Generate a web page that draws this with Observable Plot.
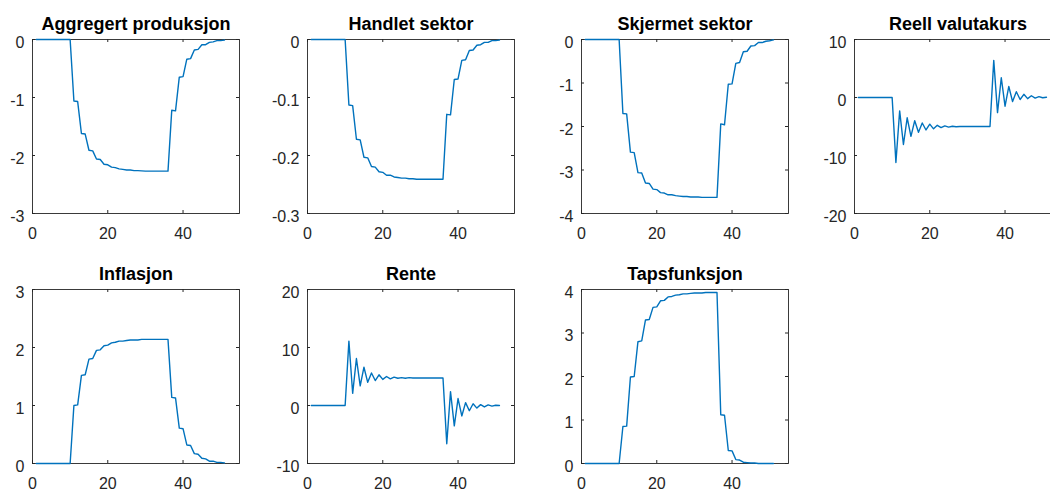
<!DOCTYPE html>
<html>
<head>
<meta charset="utf-8">
<script src="https://cdn.jsdelivr.net/npm/d3@7"></script>
<script src="https://cdn.jsdelivr.net/npm/@observablehq/plot@0.6"></script>
<style>
  html, body { margin: 0; padding: 0; background: #fff; overflow: hidden; }
  #fig { position: relative; width: 1050px; height: 489px; overflow: hidden; background: #fff; }
  #fig svg { position: absolute; overflow: visible; }
</style>
</head>
<body>
<div id="fig"></div>
<script>
// ---- Data ----
const periods = [1,2,3,4,5,6,7,8,9,10,11,12,13,14,15,16,17,18,19,20,21,22,23,24,25,26,27,28,29,30,31,32,33,34,35,36,37,38,39,40,41,42,43,44,45,46,47,48,49,50,51];

const titles = ["Aggregert produksjon", "Handlet sektor", "Skjermet sektor", "Reell valutakurs", "Inflasjon", "Rente", "Tapsfunksjon"];

const aggregertProduksjon = [0,0,0,0,0,0,0,0,0,0,
  -1.06,-1.07,-1.62,-1.63,-1.91,-1.92,-2.06,-2.07,-2.15,-2.16,
  -2.20,-2.21,-2.23,-2.24,-2.25,-2.25,-2.26,-2.26,-2.265,-2.27,
  -2.27,-2.27,-2.27,-2.27,-2.27,-2.27,
  -1.22,-1.23,-0.65,-0.64,-0.34,-0.33,-0.18,-0.17,-0.09,-0.09,-0.05,-0.04,-0.02,-0.02,-0.01];

const handletSektor = [0,0,0,0,0,0,0,0,0,0,
  -0.113,-0.114,-0.172,-0.173,-0.203,-0.204,-0.219,-0.220,-0.228,-0.229,
  -0.234,-0.234,-0.237,-0.238,-0.239,-0.239,-0.240,-0.240,-0.241,-0.241,
  -0.241,-0.241,-0.241,-0.241,-0.241,-0.241,
  -0.129,-0.130,-0.069,-0.068,-0.036,-0.035,-0.019,-0.018,-0.010,-0.009,-0.005,-0.005,-0.002,-0.002,-0.001];

const skjermetSektor = [0,0,0,0,0,0,0,0,0,0,
  -1.70,-1.71,-2.59,-2.60,-3.06,-3.07,-3.30,-3.31,-3.44,-3.45,
  -3.52,-3.53,-3.57,-3.57,-3.59,-3.60,-3.61,-3.61,-3.62,-3.62,
  -3.62,-3.63,-3.63,-3.63,-3.63,-3.63,
  -1.94,-1.96,-1.03,-1.02,-0.55,-0.53,-0.28,-0.27,-0.15,-0.14,-0.07,-0.07,-0.04,-0.03,-0.01];

const reellValutakurs = [0,0,0,0,0,0,0,0,0,0,
  -11.2,-2.3,-8.1,-3.5,-6.7,-4.0,-6.0,-4.4,-5.6,-4.6,
  -5.4,-4.8,-5.2,-4.9,-5.1,-4.95,-5.05,-5.0,-5.0,-5.0,
  -5.0,-5.0,-5.0,-5.0,-5.0,-5.0,
  6.4,-2.6,3.4,-1.5,1.9,-0.7,1.0,-0.35,0.55,-0.2,0.3,-0.1,0.15,-0.05,0.05];

const inflasjon = [0,0,0,0,0,0,0,0,0,0,
  1.00,1.01,1.52,1.53,1.80,1.81,1.95,1.96,2.03,2.04,
  2.08,2.09,2.11,2.11,2.12,2.13,2.13,2.13,2.14,2.14,
  2.14,2.14,2.14,2.14,2.14,2.14,
  1.14,1.13,0.61,0.60,0.32,0.31,0.17,0.16,0.09,0.08,0.04,0.04,0.02,0.02,0.01];

const rente = [0,0,0,0,0,0,0,0,0,0,
  11.1,2.1,8.1,3.4,6.6,4.0,5.6,4.3,5.3,4.5,
  5.0,4.6,4.9,4.7,4.8,4.7,4.8,4.75,4.75,4.75,
  4.75,4.75,4.75,4.75,4.75,4.75,
  -6.6,2.4,-3.5,1.2,-1.8,0.5,-0.9,0.3,-0.45,0.15,-0.25,0.1,-0.1,0.05,0];

const tapsfunksjon = [0,0,0,0,0,0,0,0,0,0,
  0.85,0.86,1.99,2.00,2.80,2.82,3.30,3.31,3.59,3.60,
  3.74,3.75,3.83,3.84,3.87,3.88,3.90,3.90,3.91,3.92,
  3.92,3.92,3.93,3.93,3.93,3.93,
  1.12,1.11,0.30,0.29,0.09,0.08,0.03,0.02,0.01,0.01,0,0,0,0,0];

const xTicks = [0, 20, 40];
const xDomain = [0, 55];
const yTicksAggregert = [-3, -2, -1, 0];
const yTicksHandlet = [-0.3, -0.2, -0.1, 0];
const yTicksSkjermet = [-4, -3, -2, -1, 0];
const yTicksValuta = [-20, -10, 0, 10];
const yTicksInflasjon = [0, 1, 2, 3];
const yTicksRente = [-10, 0, 10, 20];
const yTicksTaps = [0, 1, 2, 3, 4];

const series = [aggregertProduksjon, handletSektor, skjermetSektor, reellValutakurs, inflasjon, rente, tapsfunksjon];
const yTickSets = [yTicksAggregert, yTicksHandlet, yTicksSkjermet, yTicksValuta, yTicksInflasjon, yTicksRente, yTicksTaps];

// ---- Layout ----
const frameLefts = [32, 307, 581, 854];
const frameTops = [39, 289];
const W = 207, H = 174;
const mL = 60, mR = 20, mT = 45, mB = 40;
const axisColor = "#262626";
const lineColor = "#0072BD";
const fmt = d => String(d);

const fig = document.getElementById("fig");

series.forEach((values, i) => {
  const row = Math.floor(i / 4), col = i % 4;
  const yTicks = yTickSets[i];
  const yDomain = [yTicks[0], yTicks[yTicks.length - 1]];
  const data = periods.map((p, j) => ({x: p, y: values[j]}));
  const chart = Plot.plot({
    width: mL + W + mR,
    height: mT + H + mB,
    marginLeft: mL, marginRight: mR, marginTop: mT, marginBottom: mB,
    x: {domain: xDomain, label: null},
    y: {domain: yDomain, label: null},
    style: {fontFamily: "'Liberation Sans', Arial, Helvetica, sans-serif", fontSize: "16px", color: axisColor, background: "transparent", overflow: "visible"},
    marks: [
      Plot.frame({stroke: axisColor, strokeWidth: 0.9}),
      Plot.ruleX(xTicks, {x: d => d, insetTop: H - 3, stroke: axisColor}),
      Plot.ruleX(xTicks, {x: d => d, insetBottom: H - 3, stroke: axisColor}),
      Plot.ruleY(yTicks, {y: d => d, insetRight: W - 3, stroke: axisColor}),
      Plot.ruleY(yTicks, {y: d => d, insetLeft: W - 3, stroke: axisColor}),
      Plot.axisX({ticks: xTicks, tickSize: 0, tickPadding: 14, tickFormat: fmt, fontSize: 16, label: null}),
      Plot.axisY({ticks: yTicks, tickSize: 0, tickPadding: 8, dy: 3, tickFormat: fmt, fontSize: 16, label: null}),
      Plot.text([titles[i]], {text: d => d, frameAnchor: "top", dy: -9.5, lineAnchor: "bottom", fontWeight: "bold", fontSize: 18, fill: "#000"}),
      Plot.line(data, {x: "x", y: "y", stroke: lineColor, strokeWidth: 1.4, clip: false})
    ]
  });
  chart.style.left = (frameLefts[col] - mL) + "px";
  chart.style.top = (frameTops[row] - mT) + "px";
  fig.appendChild(chart);
});
</script>
</body>
</html>
